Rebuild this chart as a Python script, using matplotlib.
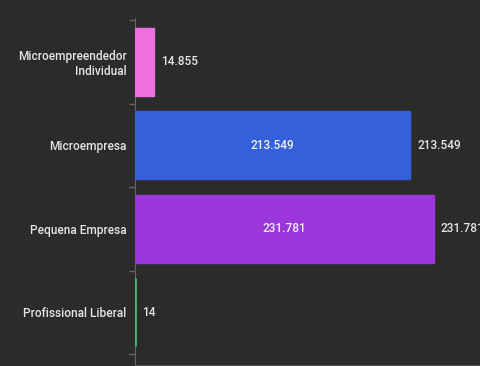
import matplotlib
matplotlib.use("Agg")
import matplotlib.pyplot as plt

categories = ["Microempreendedor\nIndividual", "Microempresa", "Pequena Empresa", "Profissional Liberal"]
values = [14855, 213549, 231781, 14]
colors = ["#EE70DD", "#3461DB", "#9B36DB", "#4CB87A"]
inside_labels = [False, True, True, False]

def fmt(v):
    return f"{v:,}".replace(",", ".")

plt.rcParams['font.family'] = ['Roboto', 'DejaVu Sans']
plt.rcParams['font.weight'] = 'medium'
bg = "#2b2b2b"
fs = 8.6
fig = plt.figure(figsize=(4.8, 3.66), dpi=100, facecolor=bg)
ax = fig.add_axes([135/480, 1/366, 1 - 135/480, 1 - 19/366])
ax.set_facecolor(bg)

y = list(range(len(categories)))
bars = ax.barh(y, values, height=0.82, color=colors, edgecolor=colors, linewidth=1.0, zorder=3)
bars[3].set_linewidth(2.0)

ax.set_xlim(0, 267500)
ax.set_ylim(3.5 + 11/83.5, -0.5 - 2/83.5)

ax.set_yticks(y)
ax.set_yticklabels(categories, color="#e6e6e6", fontsize=fs)
ax.set_yticks([i - 0.5 for i in range(len(categories) + 1)], minor=True)
ax.tick_params(axis='y', which='major', length=0, pad=6)
ax.tick_params(axis='y', which='minor', length=4, color="#666666", width=1)
for lab in ax.get_yticklabels():
    lab.set_horizontalalignment('right')
    lab.set_multialignment('right')
ax.set_xticks([])

for s in ["top", "right"]:
    ax.spines[s].set_visible(False)
ax.spines["left"].set_color("#666666")
ax.spines["bottom"].set_color("#555555")

for yi, v, inside in zip(y, values, inside_labels):
    ax.annotate(fmt(v), xy=(v, yi), xytext=(5, 0), textcoords="offset points",
                va="center", ha="left", color="#e6e6e6", fontsize=fs)
    if inside:
        ax.text(v / 2, yi, fmt(v), va="center", ha="center", color="#f2f2f2", fontsize=fs, zorder=4)

fig.savefig("out.png", dpi=100, facecolor=bg)
